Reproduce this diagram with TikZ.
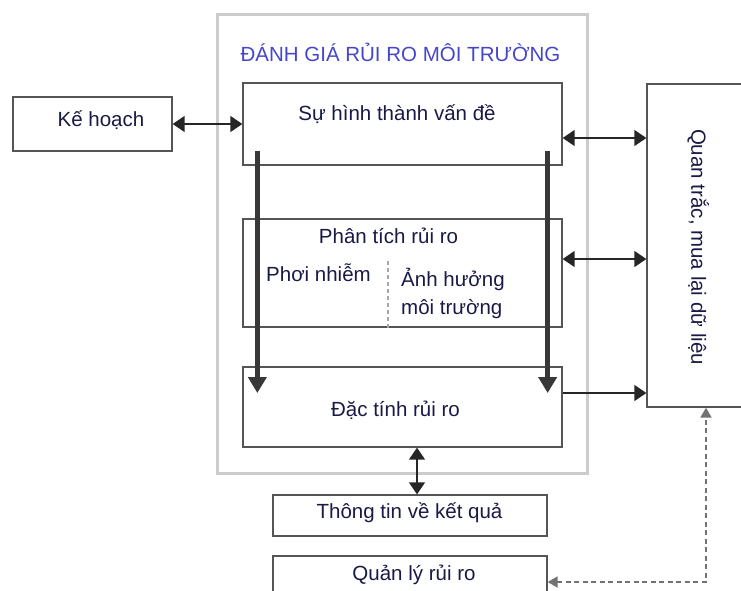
\documentclass[tikz,border=0pt]{standalone}
\usepackage{fontspec}
\setmainfont{Liberation Sans}
\usetikzlibrary{arrows.meta,positioning}
\definecolor{inkblue}{RGB}{25,25,70}
\definecolor{titleblue}{RGB}{70,70,205}
\definecolor{framegray}{RGB}{204,204,204}
\definecolor{linegray}{RGB}{85,85,85}
\tikzset{
  txt/.style={text=inkblue, font=\fontsize{20.5}{28}\selectfont, inner sep=0pt, text height=15.4pt, text depth=4.1pt},
  box/.style={draw=linegray, line width=1.3pt, inner sep=0pt},
  link/.style={draw=black!85, line width=1.4pt},
  flow/.style={draw=black!78, line width=5pt, -{Triangle[length=16pt,width=18pt]}},
  feedback/.style={draw=black!55, line width=1.8pt, dash pattern=on 5pt off 3.5pt, {Triangle[length=10pt,width=11pt]}-{Triangle[length=10pt,width=11pt]}},
  divider/.style={draw=black!35, line width=1.8pt, dash pattern=on 4pt off 3pt}
}
\begin{document}
\begin{tikzpicture}[x=1pt, y=-1pt, >={Triangle[length=12pt,width=16pt]}]
\useasboundingbox (0,0) rectangle (741,590);
\clip (0,0) rectangle (741,590);

% outer frame of the assessment
\draw[framegray, line width=3pt] (217,14) rectangle (587,473);
\node[txt, text=titleblue] (title) at (400.5,56) {ĐÁNH GIÁ RỦI RO MÔI TRƯỜNG};

% boxes
\node[box, minimum width=159pt, minimum height=54pt] (plan) at (92.5,124) {};
\node[txt] (plantext) at (101,121) {Kế hoạch};

\node[box, minimum width=319pt, minimum height=82pt] (form) at (402.5,124) {};
\node[txt] (formtext) at (397,115) {Sự hình thành vấn đề};

\node[box, minimum width=319pt, minimum height=108pt] (analysis) at (402.5,273) {};
\node[txt] (analysistext) at (388.5,238) {Phân tích rủi ro};
\node[txt] (exposure) at (318.5,276) {Phơi nhiễm};
\node[txt, anchor=north west, align=left, text height=, text depth=] (effect) at (401,268) {Ảnh hưởng\\môi trường};

\node[box, minimum width=319pt, minimum height=80pt] (character) at (402.5,407) {};
\node[txt] (charactertext) at (395.5,411) {Đặc tính rủi ro};

\node[box, minimum width=118pt, minimum height=323pt] (monitor) at (706,245.5) {};
\node[txt, rotate=-90] (monitortext) at (697,247) {Quan trắc, mua lại dữ liệu};

\node[box, minimum width=274pt, minimum height=41pt] (results) at (410,515.5) {};
\node[txt] (resultstext) at (409.5,513) {Thông tin về kết quả};

\node[box, minimum width=274pt, minimum height=52pt] (manage) at (410,582) {};
\node[txt] (managetext) at (414,575) {Quản lý rủi ro};

% dashed split inside the analysis box
\coordinate (split) at ([xshift=-14.5pt]analysis.south);
\draw[divider] (split) -- ++(0,-67);

% connectors
\draw[link, <->] (plan.east) -- (form.west);

\coordinate (fq) at ([yshift=-14pt]form.east);
\coordinate (aq) at ([yshift=14pt]analysis.east);
\coordinate (cq) at ([yshift=14pt]character.east);
\draw[link, <->] (fq) -- (fq -| monitor.west);
\draw[link, <->] (aq) -- (aq -| monitor.west);
\draw[link, ->] (cq) -- (cq -| monitor.west);

\coordinate (ltop) at ([xshift=15pt,yshift=15pt]form.south west);
\coordinate (rtop) at ([xshift=-15pt,yshift=15pt]form.south east);
\draw[flow] (ltop) -- (ltop |- cq);
\draw[flow] (rtop) -- (rtop |- cq);

\coordinate (cb) at ([xshift=14.5pt]character.south);
\draw[link, <->] (cb) -- (cb |- results.north);

\draw[feedback] (manage.east) -| (monitor.south);

\end{tikzpicture}
\end{document}
